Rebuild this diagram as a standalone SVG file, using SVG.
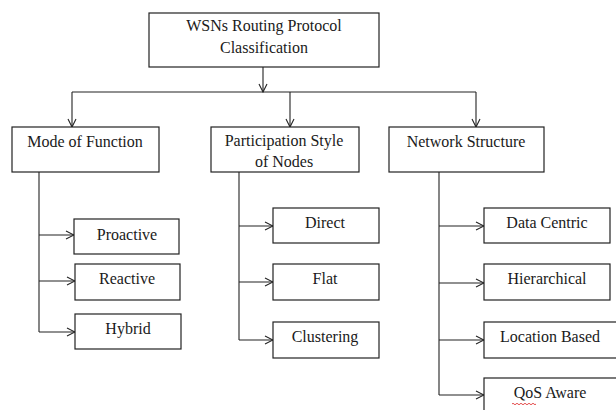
<svg xmlns="http://www.w3.org/2000/svg" width="616" height="410" viewBox="0 0 616 410">
  <defs>
    <marker id="open" viewBox="0 0 10 10" refX="9" refY="5" markerWidth="10" markerHeight="10" markerUnits="userSpaceOnUse" orient="auto">
      <path d="M1,1 L9,5 L1,9" fill="none" stroke="#222" stroke-width="1.1"/>
    </marker>
  </defs>
  <style>
    rect.box { fill: #fff; stroke: #222; stroke-width: 1.2; }
    text { font-family: "Liberation Serif", "DejaVu Serif", "Times New Roman", serif; font-size: 16px; fill: #1a1a1a; text-anchor: middle; }
    .c { fill: none; stroke: #222; stroke-width: 1.1; }
    .a { marker-end: url(#open); }
  </style>
  <rect x="0" y="0" width="616" height="410" fill="#fff"/>

  <g id="connectors">
    <path class="c a" d="M263,67 V92"/>
    <path class="c" d="M72,92 H476"/>
    <path class="c a" d="M72,92 V127"/>
    <path class="c a" d="M290,92 V127"/>
    <path class="c a" d="M476,92 V127"/>

    <path class="c" d="M39,172 V332"/>
    <path class="c a" d="M39,235 H74"/>
    <path class="c a" d="M39,281 H75"/>
    <path class="c a" d="M39,332 H75"/>

    <path class="c" d="M239,172 V340"/>
    <path class="c a" d="M239,226 H273"/>
    <path class="c a" d="M239,282 H273"/>
    <path class="c a" d="M239,340 H273"/>

    <path class="c" d="M439,172 V395"/>
    <path class="c a" d="M439,226 H484"/>
    <path class="c a" d="M439,283 H484"/>
    <path class="c a" d="M439,340 H484"/>
    <path class="c a" d="M439,395 H484"/>
  </g>

  <g id="root">
    <rect class="box" x="149" y="13" width="230" height="54"/>
    <text x="264" y="31">WSNs Routing Protocol</text>
    <text x="264" y="53">Classification</text>
  </g>

  <g id="mode-of-function">
    <rect class="box" x="12" y="127" width="147" height="45"/>
    <text x="85" y="147">Mode of Function</text>
  </g>
  <g id="proactive">
    <rect class="box" x="74" y="219" width="105" height="35"/>
    <text x="127" y="240">Proactive</text>
  </g>
  <g id="reactive">
    <rect class="box" x="75" y="264" width="105" height="36"/>
    <text x="127" y="284">Reactive</text>
  </g>
  <g id="hybrid">
    <rect class="box" x="75" y="314" width="106" height="35"/>
    <text x="128" y="334">Hybrid</text>
  </g>

  <g id="participation-style">
    <rect class="box" x="211" y="127" width="148" height="45"/>
    <text x="284" y="146">Participation Style</text>
    <text x="284" y="167">of Nodes</text>
  </g>
  <g id="direct">
    <rect class="box" x="273" y="208" width="106" height="35"/>
    <text x="325" y="228">Direct</text>
  </g>
  <g id="flat">
    <rect class="box" x="273" y="264" width="106" height="36"/>
    <text x="325" y="284">Flat</text>
  </g>
  <g id="clustering">
    <rect class="box" x="273" y="322" width="106" height="36"/>
    <text x="325" y="342">Clustering</text>
  </g>

  <g id="network-structure">
    <rect class="box" x="389" y="127" width="155" height="45"/>
    <text x="466" y="147">Network Structure</text>
  </g>
  <g id="data-centric">
    <rect class="box" x="484" y="208" width="126" height="35"/>
    <text x="547" y="228">Data Centric</text>
  </g>
  <g id="hierarchical">
    <rect class="box" x="484" y="264" width="126" height="36"/>
    <text x="547" y="284">Hierarchical</text>
  </g>
  <g id="location-based">
    <rect class="box" x="484" y="322" width="134" height="36"/>
    <text x="550" y="342">Location Based</text>
  </g>
  <g id="qos-aware">
    <rect class="box" x="484" y="378" width="134" height="40"/>
    <text x="550" y="398">QoS Aware</text>
    <path d="M512,404 q1,-1.5 2,0 t2,0 t2,0 t2,0 t2,0 t2,0 t2,0 t2,0 t2,0 t2,0 t2,0 t2,0" fill="none" stroke="#d22" stroke-width="0.8"/>
  </g>
</svg>
